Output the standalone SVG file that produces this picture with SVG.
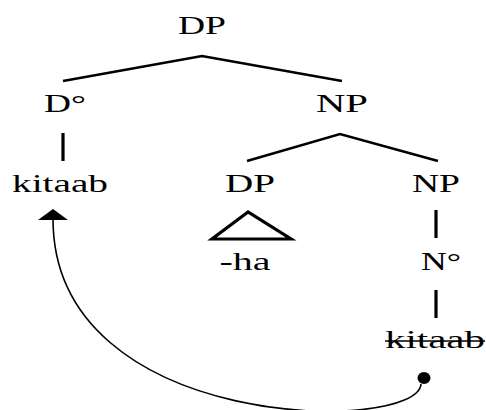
<svg xmlns="http://www.w3.org/2000/svg" width="486" height="410" viewBox="0 0 486 410">
<style>
text{font-family:"Liberation Serif","DejaVu Serif",serif;font-size:26px;fill:#000;text-anchor:middle}
.br{stroke:#000;stroke-width:2.6;fill:none;stroke-linecap:butt}
.vl{stroke:#000;stroke-width:3.2;fill:none}
.mv{stroke:#000;stroke-width:1.6;fill:none}
</style>
<rect width="486" height="410" fill="#fff"/>
<g id="connectors">
<polyline class="br" points="63,81 202,56 342,81"/>
<line class="vl" x1="63" y1="133" x2="63" y2="161"/>
<polyline class="br" points="247,161 340,134 438,161"/>
<line class="vl" x1="436" y1="210" x2="436" y2="238"/>
<line class="vl" x1="436" y1="290" x2="436" y2="318"/>
<path class="mv" d="M421,384 C418,434 53,434 53,219"/>
<polygon points="53,209 38,220 68,220" fill="#000"/>
<ellipse cx="424" cy="378" rx="6.5" ry="6" fill="#000"/>
</g>
<g id="labels" font-family="Liberation Serif, DejaVu Serif, serif">
<g id="n-dp-top"><text x="202" y="34" textLength="48" lengthAdjust="spacingAndGlyphs">DP</text></g>
<g id="n-d0"><text x="65" y="112" textLength="42" lengthAdjust="spacingAndGlyphs">D°</text></g>
<g id="n-np-mid"><text x="342" y="112" textLength="52" lengthAdjust="spacingAndGlyphs">NP</text></g>
<g id="n-kitaab"><text x="60" y="192" textLength="96" lengthAdjust="spacingAndGlyphs">kitaab</text></g>
<g id="n-dp-mid"><text x="250" y="192" textLength="50" lengthAdjust="spacingAndGlyphs">DP</text></g>
<g id="n-np-right"><text x="436" y="192" textLength="48" lengthAdjust="spacingAndGlyphs">NP</text></g>
<g id="n-ha">
<polygon class="vl" points="248,212 212,239 291,239"/>
<text x="245" y="270" textLength="51" lengthAdjust="spacingAndGlyphs">-ha</text>
</g>
<g id="n-n0"><text x="441" y="270" textLength="40" lengthAdjust="spacingAndGlyphs">N°</text></g>
<g id="n-kitaab-trace">
<text x="435" y="348" textLength="100" lengthAdjust="spacingAndGlyphs">kitaab</text>
<line class="mv" x1="385" y1="341" x2="485" y2="341"/>
</g>
</g>
</svg>
